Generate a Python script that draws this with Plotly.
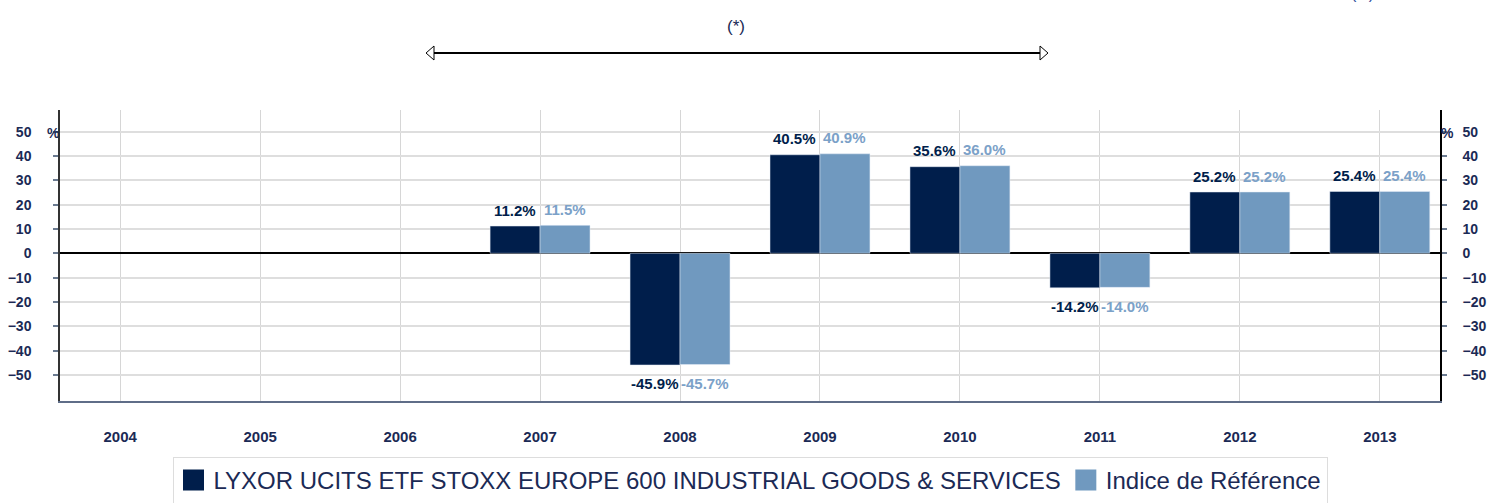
import plotly.graph_objects as go

years = ["2004", "2005", "2006", "2007", "2008", "2009", "2010", "2011", "2012", "2013"]
fund_values = [None, None, None, 11.2, -45.9, 40.5, 35.6, -14.2, 25.2, 25.4]
index_values = [None, None, None, 11.5, -45.7, 40.9, 36.0, -14.0, 25.2, 25.4]
fund_name = "LYXOR UCITS ETF STOXX EUROPE 600 INDUSTRIAL GOODS & SERVICES"
index_name = "Indice de Référence"
y_ticks = [-50, -40, -30, -20, -10, 0, 10, 20, 30, 40, 50]

W, H = 1488, 503
ML, MR, MT, MB = 60, 48, 110, 102
PW, PH = W - ML - MR, H - MT - MB

DARK = "#001E4B"
LIGHT = "#7099BF"
LIGHT_TXT = "#7BA1C8"
NAVY = "#1B2A55"
FONT = "Liberation Sans, Arial, sans-serif"


def px(x):
    return (x - ML) / PW


def py(y):
    return (H - MB - y) / PH


xtick_font = dict(family=FONT, size=15, color=NAVY, weight="bold")
ytick_font = dict(family=FONT, size=14, color=NAVY, weight="bold")

fig = go.Figure()
fig.add_trace(go.Bar(
    x=years, y=fund_values, name=fund_name, marker_color=DARK, showlegend=False,
))
fig.add_trace(go.Bar(
    x=years, y=index_values, name=index_name, marker_color=LIGHT, showlegend=False,
))
# legend entries
for nm, col in [(fund_name, DARK), (index_name, LIGHT)]:
    fig.add_trace(go.Scatter(
        x=[None], y=[None], mode="markers", name=nm,
        marker=dict(symbol="square", size=16, color=col, line=dict(color=col, width=5)),
    ))
# invisible trace on right axis
fig.add_trace(go.Scatter(x=[years[0]], y=[None], yaxis="y2", showlegend=False, hoverinfo="skip"))

# value labels placed with the data scales (category serial index on x)
for vals, col, xs in [(fund_values, DARK, -25), (index_values, LIGHT_TXT, 25)]:
    for i, v in enumerate(vals):
        if v is None:
            continue
        fig.add_annotation(
            x=i, y=v, xref="x", yref="y", text=f"{v:.1f}%", showarrow=False,
            xshift=xs, yshift=16 if v >= 0 else -19, xanchor="center", yanchor="middle",
            font=dict(family=FONT, size=15, color=col, weight="bold"),
        )

fig.update_layout(
    width=W, height=H,
    margin=dict(l=ML, r=MR, t=MT, b=MB, autoexpand=False),
    paper_bgcolor="white", plot_bgcolor="white",
    barmode="group", bargap=0.286, bargroupgap=0,
    font=dict(family=FONT, color=NAVY),
    xaxis=dict(
        type="category", range=[-0.43, 9.43], automargin=False,
        showgrid=True, gridcolor="#d6d6d6", gridwidth=1,
        showline=True, linecolor="#5F6D88", linewidth=2,
        ticks="", ticklabelstandoff=21,
        tickfont=xtick_font,
        zeroline=False,
    ),
    yaxis=dict(
        range=[-60.7, 58.9], tickvals=y_ticks, automargin=False,
        showgrid=True, gridcolor="#dedede", gridwidth=2,
        zeroline=True, zerolinecolor="#000000", zerolinewidth=1.5,
        showline=True, linecolor="#333333", linewidth=1.5,
        ticks="outside", ticklen=5, tickcolor="#6a7a90", tickwidth=1.5,
        ticklabelstandoff=19,
        tickfont=ytick_font,
    ),
    yaxis2=dict(
        range=[-60.7, 58.9], tickvals=y_ticks, overlaying="y", side="right",
        automargin=False,
        showgrid=False, zeroline=False,
        showline=True, linecolor="#000000", linewidth=1.5,
        ticks="outside", ticklen=5, tickcolor="#6a7a90", tickwidth=1.5,
        ticklabelstandoff=13,
        tickfont=ytick_font,
    ),
    legend=dict(
        orientation="h", x=0.5, xanchor="center", y=py(457), yanchor="top",
        bordercolor="#dddddd", borderwidth=1, bgcolor="white",
        font=dict(family=FONT, size=24, color=NAVY),
        itemclick=False, itemdoubleclick=False,
    ),
    showlegend=True,
)

# % labels
for xp in (53, 1447):
    fig.add_annotation(x=px(xp), y=py(133), xref="paper", yref="paper", text="%",
                       showarrow=False, xanchor="center", yanchor="middle",
                       font=dict(family=FONT, size=14, color=NAVY, weight="bold"))

# (*) label and arrow
fig.add_annotation(x=px(736), y=py(27), xref="paper", yref="paper", text="(*)",
                   showarrow=False, yanchor="middle", xanchor="center",
                   font=dict(family=FONT, size=17, color=NAVY))
fig.add_annotation(x=px(1362), y=py(-7), xref="paper", yref="paper", text="(**)",
                   showarrow=False, yanchor="middle", xanchor="center",
                   font=dict(family=FONT, size=16, color="#2E4B9A"))

AY = 53
LX, RX = 426, 1048
HL, HH = 8, 7
fig.add_shape(type="line", xref="paper", yref="paper",
              x0=px(LX + HL), x1=px(RX - HL), y0=py(AY), y1=py(AY),
              line=dict(color="#000000", width=2))
left_head = (f"M {px(LX)} {py(AY)} L {px(LX + HL)} {py(AY - HH)} "
             f"L {px(LX + HL)} {py(AY + HH)} Z")
right_head = (f"M {px(RX)} {py(AY)} L {px(RX - HL)} {py(AY - HH)} "
              f"L {px(RX - HL)} {py(AY + HH)} Z")
for p in (left_head, right_head):
    fig.add_shape(type="path", xref="paper", yref="paper", path=p,
                  fillcolor="white", line=dict(color="#000000", width=1))

fig.write_html("out.html", config={"displayModeBar": False},
               post_script="document.body.style.margin='0';")
